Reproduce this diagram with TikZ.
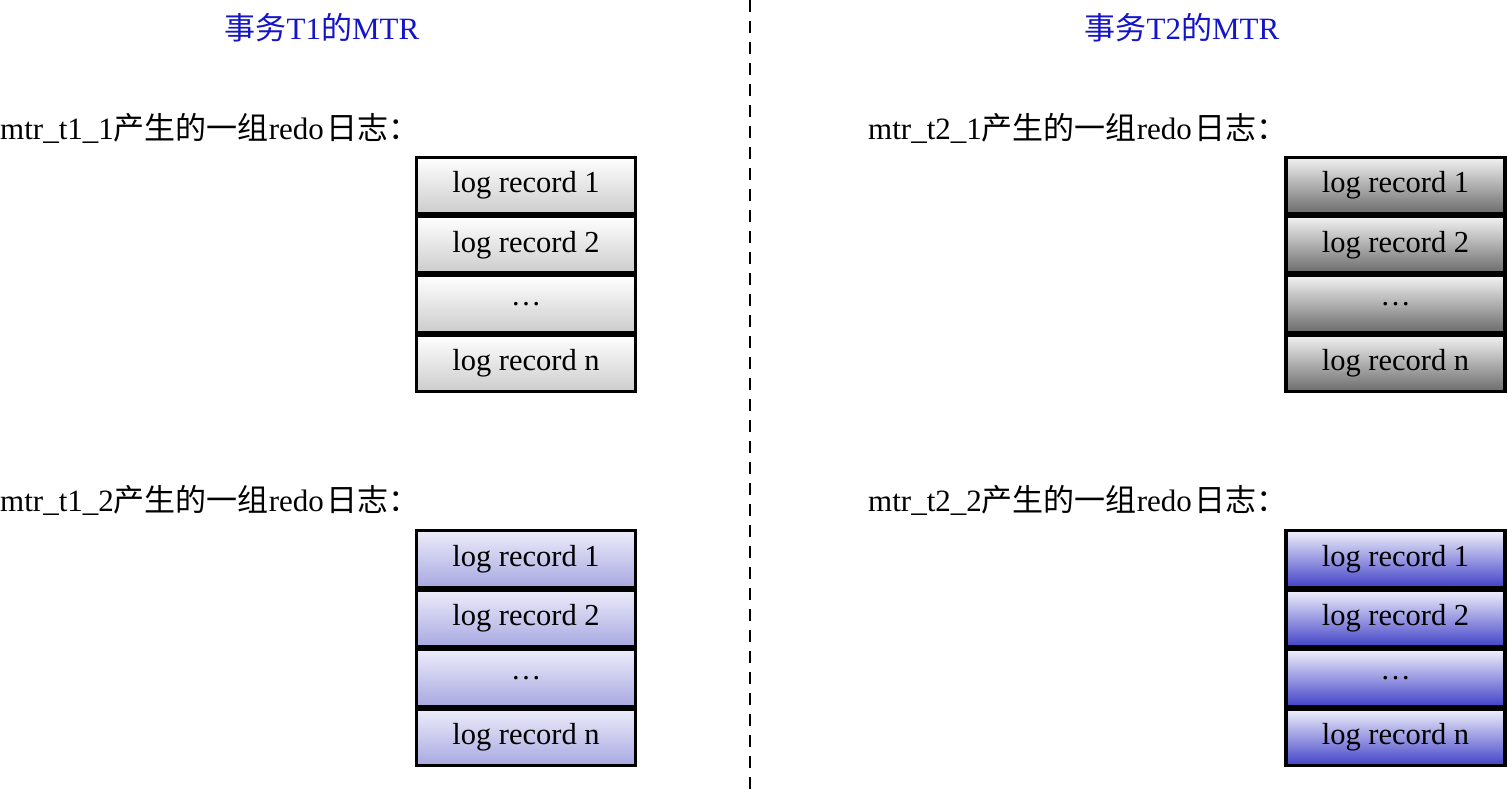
\documentclass[tikz,border=0pt]{standalone}
\usepackage{fontspec}
\setmainfont{Liberation Serif}
\newfontfamily\cjk{Noto Sans CJK SC}
\definecolor{titleblue}{RGB}{20,20,200}
\definecolor{lbluebot}{RGB}{168,168,226}
\definecolor{lbluetop}{RGB}{236,236,250}
\definecolor{dbluebot}{RGB}{66,66,200}
\definecolor{dbluetop}{RGB}{240,240,252}
\begin{document}
\begin{tikzpicture}[x=1pt,y=-1pt,
  txt/.style={font=\fontsize{31}{36}\selectfont, inner sep=0pt},
  cell/.style={draw=black, line width=3.2pt, minimum width=219pt, minimum height=56.5pt,
    inner sep=0pt, font=\fontsize{30.5}{36}\selectfont},
  graycell/.style={cell, top color=white, bottom color=black!20},
  darkcell/.style={cell, top color=black!5, bottom color=black!58},
  lbluecell/.style={cell, top color=lbluetop, bottom color=lbluebot},
  dbluecell/.style={cell, top color=dbluetop, bottom color=dbluebot},
  divider/.style={line width=2pt, dash pattern=on 12pt off 9pt}]
\useasboundingbox (0,0) rectangle (1508,790);
% titles
\node[txt, text=titleblue] (t1) at (322,28) {{\cjk 事务}T1{\cjk 的}MTR};
\node[txt, text=titleblue] (t2) at (1182,28) {{\cjk 事务}T2{\cjk 的}MTR};
% divider
\coordinate (dtop) at (750,0);
\coordinate (dbot) at (750,790);
\draw[divider] (dtop) -- (dbot);
% labels
\node[txt, anchor=west] (l11) at (0,128) {mtr\_t1\_1{\cjk 产生的一组}redo\hspace{3pt}{\cjk 日志：}};
\node[txt, anchor=west] (l12) at (0,500) {mtr\_t1\_2{\cjk 产生的一组}redo\hspace{3pt}{\cjk 日志：}};
\node[txt, anchor=west] (l21) at (868,128) {mtr\_t2\_1{\cjk 产生的一组}redo\hspace{3pt}{\cjk 日志：}};
\node[txt, anchor=west] (l22) at (868,500) {mtr\_t2\_2{\cjk 产生的一组}redo\hspace{3pt}{\cjk 日志：}};
% top-left
\node[graycell] (a1) at (526,185.5) {log record 1};
\node[graycell] (a2) at (526,244.8) {log record 2};
\node[graycell] (a3) at (526,304.1) {\dots};
\node[graycell] (a4) at (526,363.4) {log record n};
% top-right
\node[darkcell] (b1) at (1395.5,185.5) {log record 1};
\node[darkcell] (b2) at (1395.5,244.8) {log record 2};
\node[darkcell] (b3) at (1395.5,304.1) {\dots};
\node[darkcell] (b4) at (1395.5,363.4) {log record n};
% bottom-left
\node[lbluecell] (c1) at (526,559) {log record 1};
\node[lbluecell] (c2) at (526,618.5) {log record 2};
\node[lbluecell] (c3) at (526,678) {\dots};
\node[lbluecell] (c4) at (526,737.5) {log record n};
% bottom-right
\node[dbluecell] (d1) at (1395.5,559) {log record 1};
\node[dbluecell] (d2) at (1395.5,618.5) {log record 2};
\node[dbluecell] (d3) at (1395.5,678) {\dots};
\node[dbluecell] (d4) at (1395.5,737.5) {log record n};
\end{tikzpicture}
\end{document}
